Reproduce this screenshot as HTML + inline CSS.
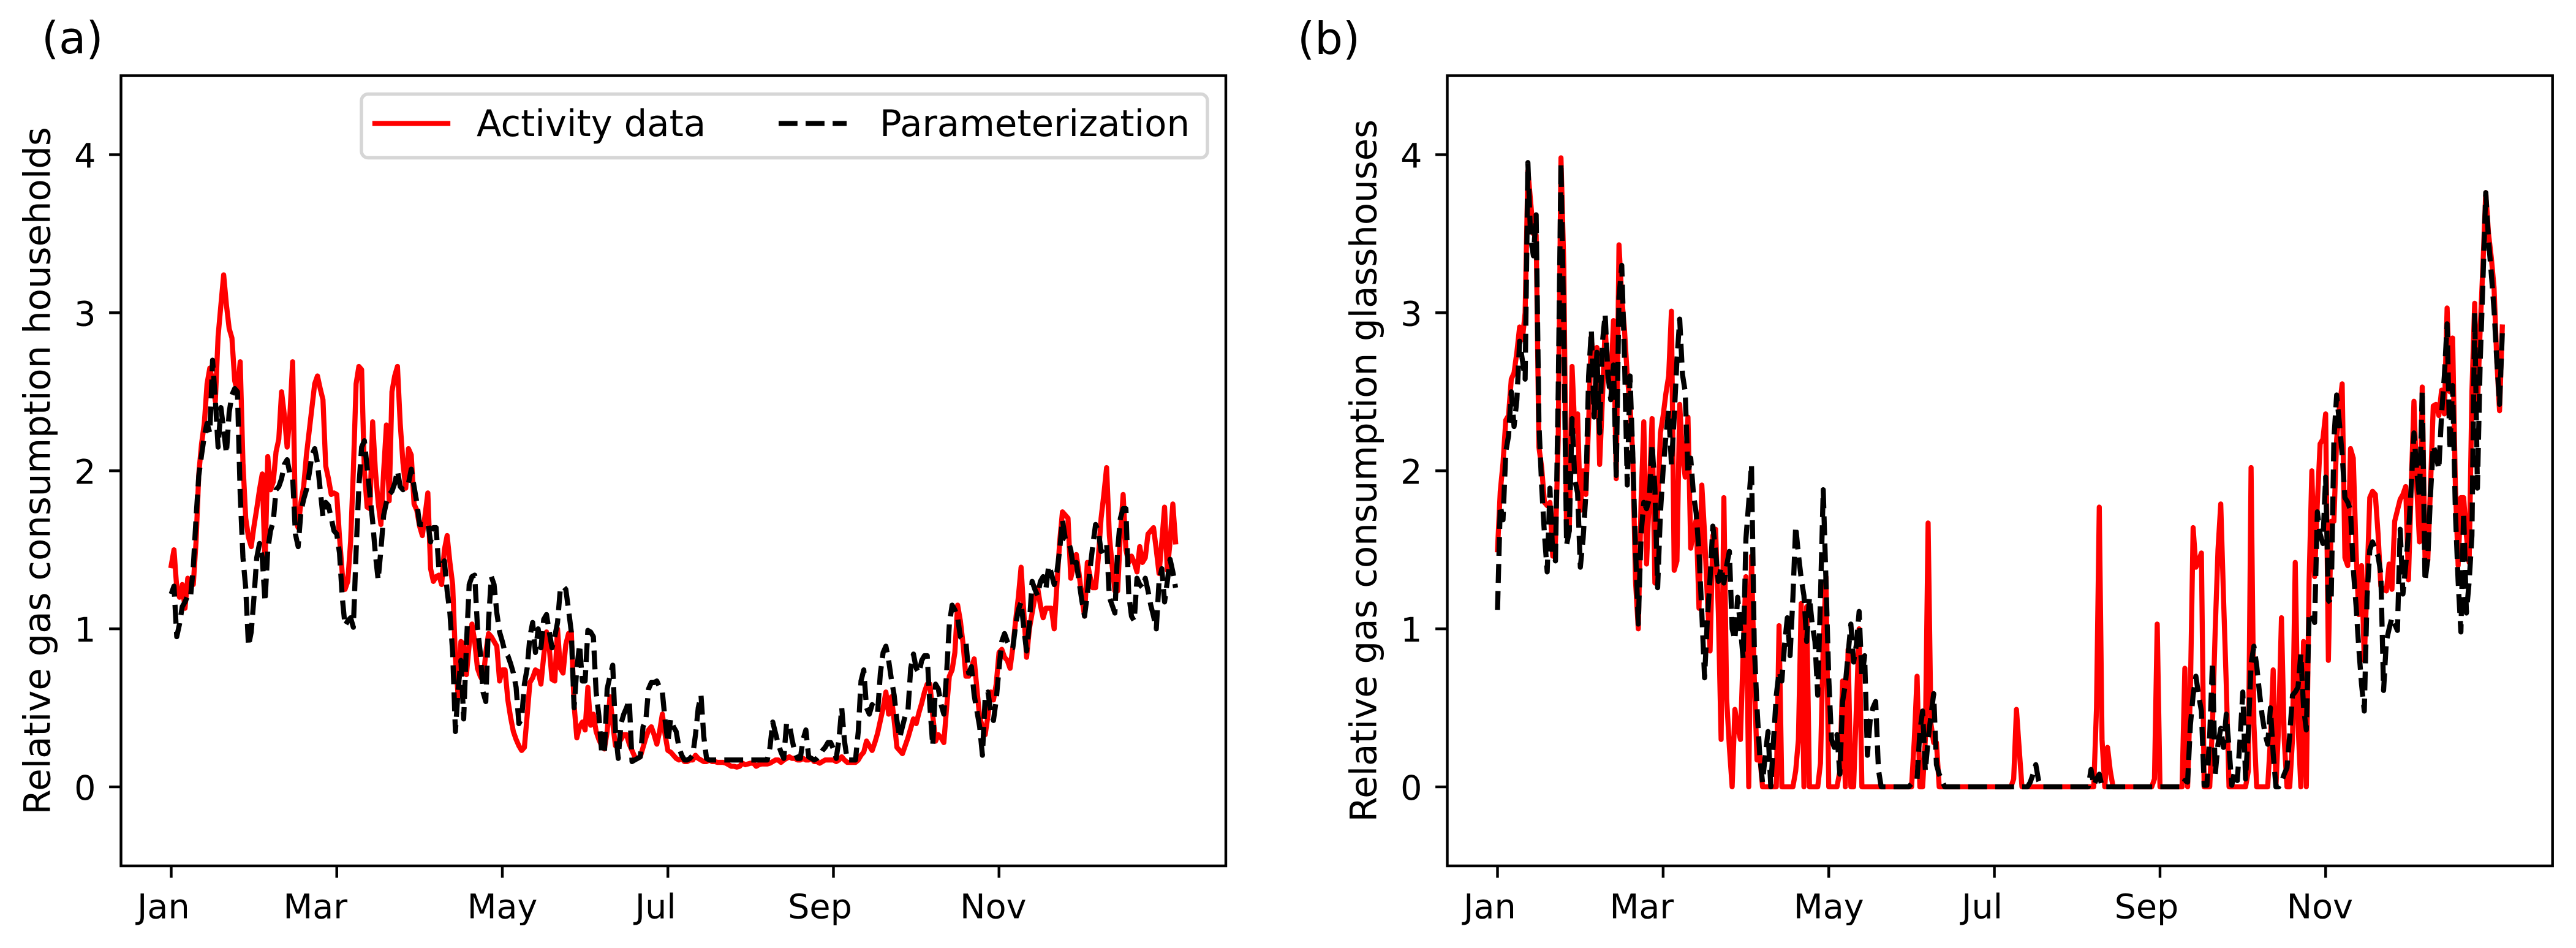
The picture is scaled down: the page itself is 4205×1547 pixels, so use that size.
<!DOCTYPE html>
<html lang="en">
<head>
<meta charset="utf-8">
<title>Relative gas consumption</title>
<style>
html,body{margin:0;padding:0;background:#fff;}
svg{display:block;}
text{font-family:"DejaVu Sans","Liberation Sans",sans-serif;fill:#000;}
</style>
</head>
<body>
<svg id="fig" xmlns="http://www.w3.org/2000/svg" width="4205" height="1547" viewBox="0 0 4205 1547">
  <rect x="0" y="0" width="4205" height="1547" fill="#fff"/>
  <text x="68" y="87" font-size="72.2">(a)</text>
  <text x="2118" y="88" font-size="72.2">(b)</text>
  <g id="panel-a"></g>
  <g id="panel-b"></g>
  <g>
    <rect x="590" y="153.5" width="1381" height="104" rx="11" ry="11" fill="#fff" fill-opacity="0.8" stroke="#d6d6d6" stroke-width="5.5"/>
    <line x1="612" y1="201.5" x2="731" y2="201.5" stroke="#ff0000" stroke-width="8.33" stroke-linecap="square"/>
    <text x="778" y="222" font-size="59.3">Activity data</text>
    <line x1="1271" y1="201.5" x2="1382" y2="201.5" stroke="#000" stroke-width="8.33" stroke-dasharray="30.8 13.3"/>
    <text x="1436" y="222" font-size="59.3">Parameterization</text>
  </g>
</svg>
<script>
const monthTicks = [0, 60, 120, 180, 240, 300];
const monthLabels = ["Jan", "Mar", "May", "Jul", "Sep", "Nov"];
const valueTicks = [0, 1, 2, 3, 4];

const householdsActivity = [
1.40,1.50,1.26,1.20,1.28,1.13,1.32,1.30,1.28,1.55,
1.98,2.17,2.30,2.55,2.65,2.57,2.44,2.85,3.05,3.24,
3.05,2.90,2.84,2.57,2.50,2.69,2.05,1.70,1.58,1.52,
1.65,1.76,1.88,1.98,1.41,2.09,1.88,1.93,2.12,2.20,
2.50,2.35,2.15,2.35,2.69,1.69,1.64,1.80,1.90,2.10,
2.25,2.40,2.55,2.60,2.52,2.45,2.03,1.95,1.85,1.86,
1.85,1.58,1.35,1.25,1.30,1.55,2.00,2.55,2.66,2.64,
2.00,1.77,1.76,2.31,2.00,1.80,1.66,2.00,2.29,1.81,
2.50,2.60,2.66,2.30,2.05,1.89,2.14,2.10,1.79,1.75,
1.65,1.59,1.72,1.86,1.38,1.30,1.33,1.34,1.28,1.50,
1.59,1.42,1.28,0.82,0.57,0.92,0.90,0.71,0.90,1.03,
0.92,0.75,0.70,0.67,0.85,0.97,0.95,0.92,0.89,0.67,
0.74,0.74,0.55,0.44,0.35,0.30,0.26,0.23,0.25,0.45,
0.66,0.69,0.74,0.73,0.65,0.83,0.98,0.88,0.68,0.67,
1.00,0.75,0.72,0.90,0.97,0.98,0.52,0.31,0.38,0.41,
0.36,0.63,0.39,0.46,0.35,0.30,0.26,0.24,0.35,0.57,
0.40,0.26,0.28,0.30,0.33,0.33,0.27,0.23,0.19,0.18,
0.19,0.25,0.31,0.36,0.38,0.33,0.27,0.35,0.46,0.33,
0.23,0.22,0.20,0.18,0.17,0.18,0.16,0.16,0.17,0.17,
0.20,0.18,0.17,0.16,0.16,0.17,0.16,0.16,0.155,0.155,
0.155,0.15,0.14,0.13,0.13,0.125,0.13,0.15,0.14,0.145,
0.15,0.15,0.13,0.14,0.145,0.145,0.145,0.15,0.16,0.17,
0.17,0.155,0.17,0.18,0.19,0.18,0.18,0.17,0.17,0.18,
0.17,0.17,0.18,0.16,0.16,0.15,0.16,0.17,0.17,0.17,
0.17,0.16,0.17,0.19,0.17,0.155,0.155,0.155,0.155,0.17,
0.20,0.22,0.29,0.26,0.23,0.28,0.34,0.42,0.50,0.60,
0.46,0.57,0.42,0.25,0.23,0.21,0.26,0.31,0.37,0.43,
0.40,0.47,0.53,0.60,0.65,0.65,0.45,0.29,0.33,0.31,
0.28,0.50,0.70,0.74,0.85,1.15,1.05,0.90,0.70,0.70,
0.75,0.81,0.62,0.44,0.38,0.33,0.45,0.60,0.55,0.65,
0.85,0.87,0.82,0.80,0.75,0.88,1.05,1.20,1.39,1.10,
0.82,1.00,1.10,1.20,1.26,1.15,1.07,1.13,1.13,1.13,
1.00,1.28,1.55,1.74,1.72,1.70,1.32,1.40,1.47,1.35,
1.20,1.08,1.42,1.33,1.26,1.26,1.45,1.70,1.85,2.02,
1.59,1.40,1.24,1.24,1.60,1.85,1.50,1.42,1.46,1.42,
1.36,1.52,1.42,1.45,1.60,1.62,1.64,1.50,1.35,1.55,
1.77,1.37,1.55,1.79,1.55];

const householdsParameterization = [
1.22,1.27,0.95,1.03,1.14,1.17,1.21,1.20,1.39,1.70,
1.97,2.10,2.22,2.30,2.24,2.70,2.45,2.15,2.40,2.26,
2.11,2.37,2.48,2.52,2.50,1.85,1.45,1.26,0.89,0.98,
1.20,1.45,1.54,1.45,1.17,1.50,1.62,1.68,1.88,1.90,
1.95,2.04,2.07,1.98,1.96,1.60,1.52,1.74,1.82,1.88,
1.98,2.10,2.14,2.05,1.88,1.71,1.80,1.78,1.70,1.62,
1.60,1.48,1.20,1.02,1.05,1.07,1.01,1.49,1.90,2.15,
2.19,2.02,1.85,1.68,1.47,1.31,1.50,1.72,1.80,1.85,
1.87,1.92,2.00,1.90,1.88,1.89,1.92,2.01,1.90,1.80,
1.66,1.66,1.66,1.67,1.55,1.64,1.64,1.38,1.40,1.43,
1.24,1.10,0.85,0.35,0.62,0.80,0.43,0.90,1.28,1.33,
1.34,1.01,0.85,0.60,0.54,1.05,1.33,1.28,1.10,0.98,
0.92,0.85,0.83,0.78,0.72,0.63,0.40,0.43,0.65,0.75,
0.95,1.04,0.85,1.00,0.88,1.06,1.09,0.98,0.88,0.95,
1.04,1.25,1.27,1.25,1.12,0.98,0.50,0.75,0.90,0.67,
0.67,0.99,0.98,0.95,0.60,0.45,0.22,0.21,0.62,0.70,
0.77,0.35,0.18,0.40,0.46,0.50,0.55,0.16,0.17,0.18,
0.19,0.38,0.42,0.62,0.66,0.66,0.67,0.63,0.60,0.42,
0.28,0.43,0.38,0.35,0.25,0.20,0.17,0.17,0.18,0.20,
0.33,0.50,0.58,0.32,0.18,0.17,0.17,0.17,0.17,0.17,
0.17,0.17,0.17,0.17,0.17,0.17,0.17,0.17,0.17,0.17,
0.17,0.17,0.17,0.17,0.17,0.17,0.17,0.25,0.41,0.34,
0.27,0.22,0.18,0.40,0.40,0.30,0.22,0.18,0.18,0.30,
0.36,0.19,0.18,0.17,0.18,0.20,0.23,0.25,0.28,0.28,
0.24,0.18,0.30,0.50,0.29,0.17,0.17,0.17,0.17,0.35,
0.67,0.74,0.50,0.46,0.52,0.50,0.47,0.72,0.85,0.89,
0.80,0.68,0.58,0.42,0.31,0.38,0.45,0.48,0.75,0.84,
0.75,0.72,0.80,0.83,0.83,0.50,0.26,0.65,0.62,0.52,
0.46,0.72,1.03,1.15,1.12,1.07,0.95,0.93,0.92,0.72,
0.76,0.58,0.48,0.38,0.20,0.57,0.60,0.48,0.42,0.55,
0.75,0.92,0.97,0.92,0.88,0.88,1.02,1.12,1.17,1.00,
0.86,1.03,1.30,1.25,1.21,1.30,1.33,1.25,1.40,1.35,
1.28,1.36,1.50,1.69,1.57,1.56,1.50,1.38,1.42,1.30,
1.18,1.08,1.22,1.38,1.53,1.66,1.62,1.49,1.50,1.54,
1.20,1.15,1.10,1.50,1.70,1.76,1.76,1.22,1.08,1.05,
1.32,1.28,1.26,1.32,1.24,1.15,1.08,1.00,1.30,1.38,
1.17,1.30,1.44,1.36,1.26];

const glasshousesActivity = [
1.50,1.87,2.05,2.32,2.35,2.58,2.62,2.75,2.91,2.83,
3.00,3.90,3.70,3.50,3.49,2.15,2.02,1.80,1.78,1.80,
1.46,1.55,2.20,3.98,3.30,1.60,1.62,2.66,2.25,2.36,
1.75,2.00,1.85,2.30,2.85,2.62,2.78,2.04,2.45,2.91,
2.60,2.52,2.95,1.95,3.43,3.10,2.89,2.60,2.42,2.10,
1.30,1.00,1.80,2.31,1.41,1.85,2.33,1.29,1.75,2.24,
2.35,2.49,2.60,3.01,1.37,1.43,2.42,2.10,1.96,2.34,
1.51,1.62,1.69,1.13,1.91,1.60,1.20,0.86,1.59,1.63,
1.10,0.30,1.83,0.56,0.25,0,0.49,0.38,0.30,0.85,
1.33,0,1.46,0.70,0.17,0.20,0,0,0,0,
0,0,1.02,0,0,0,0,0,0.10,0.30,
1.16,0,1.14,0,0,0,0,0.15,0.90,1.33,
0,0,0,0,0.10,0.67,0,0.87,0,0,
0.50,1.00,0,0,0,0,0,0,0,0,
0,0,0,0,0,0,0,0,0,0,
0,0.30,0.70,0,0,0.30,1.67,0.40,0.28,0.28,
0,0,0,0,0,0,0,0,0,0,
0,0,0,0,0,0,0,0,0,0,
0,0,0,0,0,0,0,0.05,0.49,0.24,
0,0,0,0,0,0,0,0,0,0,
0,0,0,0,0,0,0,0,0,0,
0,0,0,0,0,0,0,0.50,1.77,0.30,
0,0.25,0.10,0,0,0,0,0,0,0,
0,0,0,0,0,0,0,0,0.05,1.03,
0,0,0,0,0,0,0,0,0,0.75,
0,0.60,1.64,1.39,1.43,1.48,0,0,0,0.40,
1.00,1.50,1.79,1.20,0.65,0,0,0,0,0,
0,0,0.10,2.02,0.40,0,0,0,0,0,
0.30,0.74,0,0.40,1.07,0.30,0,0,0.30,1.42,
0.40,0,0.92,0,1.30,2.00,1.33,1.80,2.17,2.20,
2.36,0.80,1.68,1.68,2.20,2.40,2.55,1.45,1.40,2.14,
2.08,1.50,1.09,1.40,0.80,1.30,1.83,1.87,1.85,1.60,
1.27,1.25,1.24,1.41,1.25,1.68,1.75,1.82,1.85,1.90,
1.31,1.90,2.44,1.90,1.55,2.53,1.45,1.43,1.90,2.41,
2.42,2.35,2.51,2.36,3.03,2.50,2.84,1.90,1.40,1.83,
1.83,1.59,1.42,2.50,3.06,2.40,2.90,3.30,3.76,3.50,
3.35,3.16,2.70,2.38,2.91];

const glasshousesParameterization = [
1.12,1.78,1.69,2.12,2.22,2.50,2.28,2.45,2.82,2.70,
2.58,3.95,3.47,3.36,3.62,2.30,1.90,1.60,1.36,1.89,
1.47,1.43,2.50,3.95,2.90,1.53,1.62,2.33,1.94,1.86,
1.39,1.57,1.85,2.60,2.89,2.34,2.75,2.24,2.81,2.99,
2.61,2.45,2.67,1.97,3.10,3.30,2.71,1.91,2.60,2.10,
1.50,1.03,1.60,1.80,1.76,1.82,2.17,1.89,1.26,1.73,
2.01,2.22,2.38,2.04,2.34,2.70,2.96,2.61,2.50,1.98,
2.08,1.85,1.73,1.48,1.10,0.69,1.06,1.32,1.65,1.49,
1.30,1.39,1.29,1.40,1.49,1.00,0.93,1.20,1.01,0.81,
1.57,1.80,2.04,0.90,0.50,0.20,0.03,0.20,0.35,0,
0.30,0.58,0.73,0.67,0.90,1.07,0.83,1.20,1.65,1.47,
1.32,1.21,0.92,1.20,1.03,0.92,0.58,1.20,1.88,1.30,
0.69,0.30,0.25,0.33,0.08,0.54,0.65,0.84,1.03,0.79,
0.90,1.11,0.69,0.83,0.20,0.42,0.50,0.54,0.11,0,
0,0,0,0,0,0,0,0,0,0,
0.02,0.04,0.05,0.35,0.48,0.10,0.30,0.45,0.59,0.14,
0.08,0.04,0,0,0,0,0,0,0,0,
0,0,0,0,0,0,0,0,0,0,
0,0,0,0,0,0,0,0,0,0,
0,0,0,0.03,0.08,0.14,0.04,0,0,0,
0,0,0,0,0,0,0,0,0,0,
0,0,0,0,0,0.11,0.01,0.05,0.08,0,
0,0,0,0,0,0,0,0,0,0,
0,0,0,0,0,0,0,0,0,0,
0,0,0,0,0,0,0,0,0,0.04,
0.03,0.39,0.58,0.70,0.58,0.48,0.01,0.01,0.33,0.79,
0.08,0.27,0.37,0.25,0.46,0.25,0.01,0.10,0.04,0.30,
0.60,0.05,0.35,0.78,0.89,0.77,0.60,0.45,0.34,0.27,
0.50,0.21,0,0,0.03,0.08,0.12,0.33,0.58,0.60,
0.63,0.84,0.50,0.36,1.09,1.10,1.04,1.74,1.60,1.54,
1.96,1.18,1.16,2.20,2.48,2.30,2.10,1.83,1.80,1.75,
1.38,1.15,0.88,0.65,0.48,1.20,1.50,1.55,1.50,1.46,
1.35,0.61,0.92,1.00,1.07,1.03,0.99,1.63,1.22,1.40,
1.60,1.90,2.24,2.00,1.83,2.51,1.30,1.44,1.85,2.16,
2.10,2.01,2.36,2.60,2.93,2.13,2.54,1.74,1.30,0.98,
1.74,1.10,1.30,1.59,3.00,1.89,2.69,3.20,3.76,3.46,
3.25,3.02,2.70,2.42,2.87];

/* layout only */
const SVGNS = "http://www.w3.org/2000/svg";
const AXIS_TOP = 123.5, AXIS_BOTTOM = 1413;
const Y_MIN = -0.5, Y_MAX = 4.5;
const X_MIN = -18.2, X_MAX = 382.2;
const TICK_LEN = 19.4;
const FONT = 55.56;
const TITLE_FONT = 59.3;
const labelShift = {Jan: -12.6, Mar: -35, May: 0, Jul: -20, Sep: -22, Nov: -9.5};

function drawPanel(target, left, right, ylabelBaseline, ylabelText, activity, parameterization, key) {
  const xAxis = v => left + (v - X_MIN) / (X_MAX - X_MIN) * (right - left);
  const yAxis = v => AXIS_BOTTOM - (v - Y_MIN) / (Y_MAX - Y_MIN) * (AXIS_BOTTOM - AXIS_TOP);

  const linePath = values => values.map((v, i) => (i ? "L" : "M") + xAxis(i).toFixed(1) + " " + yAxis(v).toFixed(1)).join("");

  const red = document.createElementNS(SVGNS, "path");
  
  
  red.setAttribute("d", linePath(activity));
  red.setAttribute("fill", "none");
  red.setAttribute("stroke", "#ff0000");
  red.setAttribute("stroke-width", "8.33");
  red.setAttribute("stroke-linejoin", "round");
  red.setAttribute("stroke-linecap", "square");
  target.appendChild(red);

  const black = document.createElementNS(SVGNS, "path");
  
  
  black.setAttribute("d", linePath(parameterization));
  black.setAttribute("fill", "none");
  black.setAttribute("stroke", "#000");
  black.setAttribute("stroke-width", "8.33");
  black.setAttribute("stroke-linejoin", "round");
  black.setAttribute("stroke-dasharray", "30.8 13.3");
  target.appendChild(black);

  const frame = document.createElementNS(SVGNS, "rect");
  
  
  frame.setAttribute("x", left);
  frame.setAttribute("y", AXIS_TOP);
  frame.setAttribute("width", right - left);
  frame.setAttribute("height", AXIS_BOTTOM - AXIS_TOP);
  frame.setAttribute("fill", "none");
  frame.setAttribute("stroke", "#000");
  frame.setAttribute("stroke-width", "4.44");
  target.appendChild(frame);

  valueTicks.forEach(v => {
    const tick = document.createElementNS(SVGNS, "line");
    
    
    tick.setAttribute("x1", left - TICK_LEN);
    tick.setAttribute("x2", left);
    tick.setAttribute("y1", yAxis(v));
    tick.setAttribute("y2", yAxis(v));
    tick.setAttribute("stroke", "#000");
    tick.setAttribute("stroke-width", "4.44");
    target.appendChild(tick);

    const label = document.createElementNS(SVGNS, "text");
    
    
    label.setAttribute("x", left - 41);
    label.setAttribute("y", yAxis(v) + 21);
    label.setAttribute("text-anchor", "end");
    label.setAttribute("font-size", FONT);
    label.textContent = String(v);
    target.appendChild(label);
  });

  monthTicks.forEach((day, i) => {
    const tick = document.createElementNS(SVGNS, "line");
    
    
    tick.setAttribute("x1", xAxis(day));
    tick.setAttribute("x2", xAxis(day));
    tick.setAttribute("y1", AXIS_BOTTOM);
    tick.setAttribute("y2", AXIS_BOTTOM + TICK_LEN);
    tick.setAttribute("stroke", "#000");
    tick.setAttribute("stroke-width", "4.44");
    target.appendChild(tick);

    const label = document.createElementNS(SVGNS, "text");
    
    
    label.setAttribute("x", xAxis(day) + labelShift[monthLabels[i]]);
    label.setAttribute("y", 1498.5);
    label.setAttribute("text-anchor", "middle");
    label.setAttribute("font-size", FONT);
    label.textContent = monthLabels[i];
    target.appendChild(label);
  });

  const ylabel = document.createElementNS(SVGNS, "text");
  
  
  ylabel.setAttribute("transform", "translate(" + ylabelBaseline + " " + (AXIS_TOP + AXIS_BOTTOM) / 2 + ") rotate(-90)");
  ylabel.setAttribute("text-anchor", "middle");
  ylabel.setAttribute("font-size", TITLE_FONT);
  ylabel.textContent = ylabelText;
  target.appendChild(ylabel);
}

drawPanel(document.getElementById("panel-a"), 197.5, 2001, 81.6,
  "Relative gas consumption households", householdsActivity, householdsParameterization, "households");
drawPanel(document.getElementById("panel-b"), 2362.5, 4166.7, 2246.7,
  "Relative gas consumption glasshouses", glasshousesActivity, glasshousesParameterization, "glasshouses");
</script>
</body>
</html>
